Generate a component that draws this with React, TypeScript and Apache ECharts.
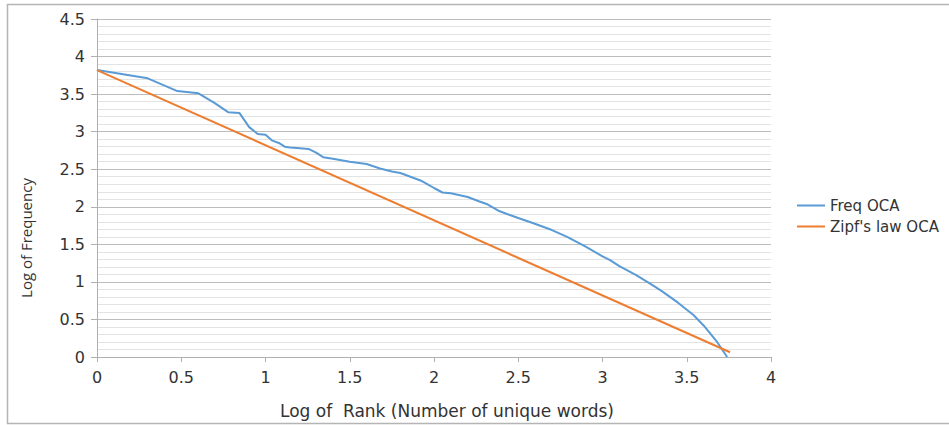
import React, { useEffect, useRef } from "react";
import * as echarts from "echarts";

const freqX: number[] = [0, 0.301, 0.477, 0.602, 0.699, 0.778, 0.845, 0.903, 0.954, 1.0, 1.041, 1.079, 1.114, 1.146, 1.204, 1.255, 1.3, 1.342, 1.4, 1.45, 1.5, 1.6, 1.68, 1.75, 1.8, 1.86, 1.92, 1.96, 2.0, 2.05, 2.1, 2.2, 2.27, 2.32, 2.39, 2.45, 2.5, 2.59, 2.7, 2.79, 2.9, 3.0, 3.045, 3.1, 3.2, 3.28, 3.35, 3.45, 3.5, 3.54, 3.6, 3.64, 3.68, 3.71, 3.74];
const freqY: number[] = [3.82, 3.71, 3.54, 3.51, 3.38, 3.26, 3.25, 3.06, 2.97, 2.96, 2.88, 2.85, 2.8, 2.79, 2.78, 2.77, 2.72, 2.66, 2.64, 2.62, 2.6, 2.57, 2.51, 2.47, 2.45, 2.4, 2.35, 2.3, 2.25, 2.19, 2.18, 2.13, 2.07, 2.03, 1.94, 1.89, 1.85, 1.78, 1.69, 1.6, 1.47, 1.34, 1.29, 1.21, 1.09, 0.98, 0.88, 0.72, 0.63, 0.56, 0.42, 0.31, 0.2, 0.1, 0.0];
const zipfX: number[] = [0, 3.757];
const zipfY: number[] = [3.82, 0.063];
const seriesNames: string[] = ["Freq OCA", "Zipf's law OCA"];
const xTitle = "Log of  Rank (Number of unique words)";
const yTitle = "Log of Frequency";

const WIDE = '"DejaVu Sans", sans-serif';
const NARROW = '"Open Sans", "Noto Sans", sans-serif';

export default function App() {
  const ref = useRef<HTMLDivElement>(null);
  useEffect(() => {
    if (!ref.current) return;
    const chart = echarts.init(ref.current, undefined, { renderer: "svg" });
    chart.setOption({
      animation: false,
      backgroundColor: "#ffffff",
      grid: { left: 97, top: 19, right: 178, bottom: 68, containLabel: false },
      legend: {
        orient: "vertical",
        left: 797,
        top: 198,
        padding: 0,
        icon: "rect",
        itemWidth: 28,
        itemHeight: 2,
        itemGap: 6,
        textStyle: { fontSize: 15, color: "#333", fontFamily: WIDE },
        data: seriesNames,
      },
      xAxis: {
        type: "value",
        min: 0,
        max: 4,
        interval: 0.5,
        axisLine: { show: true, lineStyle: { color: "#b0b0b0", width: 1 } },
        axisTick: { show: true, length: 5, lineStyle: { color: "#b0b0b0" } },
        splitLine: { show: false },
        axisLabel: { fontSize: 16, color: "#333", fontFamily: WIDE, margin: 12 },
      },
      yAxis: {
        type: "value",
        min: 0,
        max: 4.5,
        interval: 0.5,
        axisLine: { show: true, lineStyle: { color: "#b0b0b0", width: 1 } },
        axisTick: { show: true, length: 6, lineStyle: { color: "#b0b0b0" } },
        splitLine: { show: true, lineStyle: { color: "#bdbdbd", width: 1 } },
        minorTick: { show: false, splitNumber: 5 },
        minorSplitLine: { show: true, lineStyle: { color: "#e3e3e3", width: 1 } },
        axisLabel: { fontSize: 16, color: "#333", fontFamily: WIDE, margin: 12 },
      },
      graphic: [
        {
          type: "rect",
          shape: { x: 7.5, y: 4.5, width: 960, height: 419 },
          style: { fill: "none", stroke: "#b5b5b5", lineWidth: 1.5 },
          silent: true,
          z: -1,
        },
        {
          type: "text",
          x: 26,
          y: 238,
          rotation: Math.PI / 2,
          style: { text: yTitle, fill: "#333", font: `15px ${NARROW}`, align: "center", verticalAlign: "middle" },
        },
        {
          type: "text",
          x: 447,
          y: 411,
          style: { text: xTitle, fill: "#333", font: `17px ${WIDE}`, align: "center", verticalAlign: "middle" },
        },
      ],
      series: [
        {
          name: seriesNames[0],
          type: "line",
          showSymbol: false,
          symbol: "none",
          lineStyle: { color: "#5b9bd5", width: 2 },
          itemStyle: { color: "#5b9bd5" },
          data: freqX.map((x, i) => [x, freqY[i]]),
        },
        {
          name: seriesNames[1],
          type: "line",
          showSymbol: false,
          symbol: "none",
          lineStyle: { color: "#ed7d31", width: 2 },
          itemStyle: { color: "#ed7d31" },
          data: zipfX.map((x, i) => [x, zipfY[i]]),
        },
      ],
    });
    return () => chart.dispose();
  }, []);
  return (
    <div
      ref={ref}
      style={{ position: "absolute", left: 0, top: 0, width: 949, height: 425 }}
    />
  );
}
